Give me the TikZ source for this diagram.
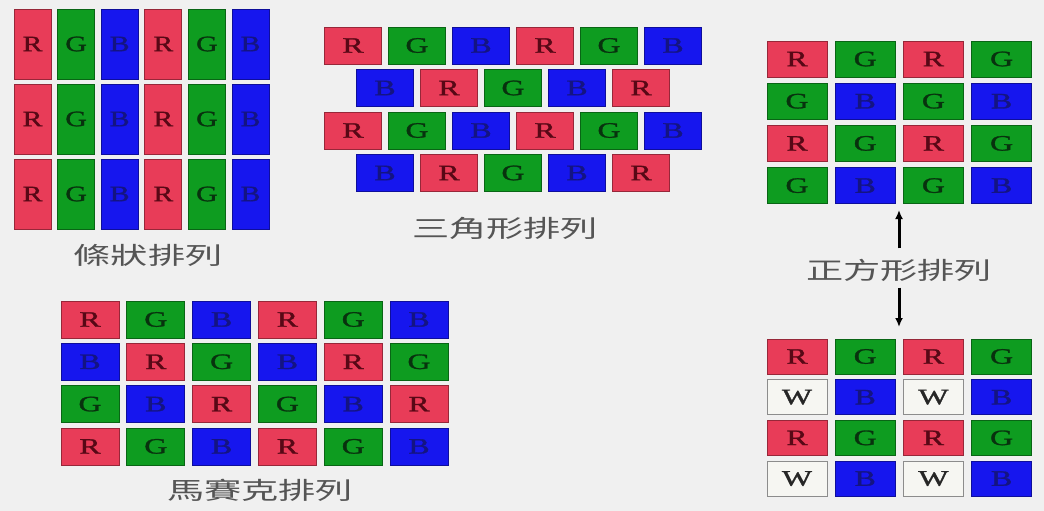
\documentclass[tikz,border=0pt]{standalone}
\usepackage{fontspec}
\setmainfont{Liberation Serif}
\newfontfamily\pixfont[FakeBold=1.2]{Liberation Serif}
\newfontfamily\cjk{Noto Sans CJK TC}
\usetikzlibrary{arrows.meta}
\definecolor{bgpaper}{RGB}{240,240,240}
\definecolor{pixred}{RGB}{232,60,88}
\definecolor{pixgreen}{RGB}{14,156,32}
\definecolor{pixblue}{RGB}{22,22,238}
\definecolor{pixwhite}{RGB}{246,246,242}
\definecolor{txtred}{RGB}{88,8,22}
\definecolor{txtgreen}{RGB}{8,50,14}
\definecolor{txtblue}{RGB}{20,20,130}
\definecolor{capgray}{RGB}{85,85,85}
\newcommand{\wide}[2][1.45]{\scalebox{#1}[1]{#2}}
\tikzset{
    pix/.style={
        draw,
        line width=0.8pt,
        inner sep=0pt,
        font=\pixfont\fontsize{22}{22}\selectfont
    },
    cellR/.style={pix, fill=pixred, draw=pixred!65!black, text=txtred},
    cellG/.style={pix, fill=pixgreen, draw=pixgreen!65!black, text=txtgreen},
    cellB/.style={pix, fill=pixblue, draw=pixblue!65!black, text=txtblue},
    cellW/.style={pix, fill=pixwhite, draw=black!45, text=black!85},
    stripe/.style={minimum width=37pt, minimum height=70pt},
    tri/.style={minimum width=57pt, minimum height=37pt},
    square/.style={minimum width=60pt, minimum height=36pt},
    mosaic/.style={minimum width=58pt, minimum height=37pt},
    caption/.style={text=capgray, font=\cjk\fontsize{24}{24}\selectfont},
    arrow/.style={
        -{Latex[length=9pt,width=8pt]},
        line width=3pt
    }
}

\begin{document}
\begin{tikzpicture}[x=1pt,y=-1pt]

\useasboundingbox[fill=bgpaper] (0,0) rectangle (1044,511);

% stripe
\foreach \c [count=\i] in {R,G,B,R,G,B}
  \foreach \r in {1,2,3}
    \node[cell\c, stripe] (st\r\i) at ({32.5+43.6*(\i-1)}, {44+75*(\r-1)}) {\wide[1.35]{\c}};
\node[caption] (stcap) at (148,255) {\wide[1.55]{條狀排列}};

% delta
\foreach \row [count=\r] in {{R,G,B,R,G,B},{B,R,G,B,R},{R,G,B,R,G,B},{B,R,G,B,R}}
  \foreach \c [count=\i] in \row
    \node[cell\c, tri] (tr\r\i) at ({353+64*(\i-1)+32*(1-mod(\r,2))}, {45.5+42.5*(\r-1)}) {\wide{\c}};
\node[caption] (trcap) at (505,228) {\wide[1.55]{三角形排列}};

% mosaic
\foreach \row [count=\r] in {{R,G,B,R,G,B},{B,R,G,B,R,G},{G,B,R,G,B,R},{R,G,B,R,G,B}}
  \foreach \c [count=\i] in \row
    \node[cell\c, mosaic] (mo\r\i) at ({90+65.8*(\i-1)}, {319.5+42.3*(\r-1)}) {\wide{\c}};
\node[caption] (mocap) at (260,490) {\wide[1.55]{馬賽克排列}};

% square
\foreach \row [count=\r] in {{R,G,R,G},{G,B,G,B},{R,G,R,G},{G,B,G,B}}
  \foreach \c [count=\i] in \row
    \node[cell\c, square] (sa\r\i) at ({797+68.2*(\i-1)}, {59+42.2*(\r-1)}) {\wide{\c}};
\foreach \row [count=\r] in {{R,G,R,G},{W,B,W,B},{R,G,R,G},{W,B,W,B}}
  \foreach \c [count=\i] in \row
    \node[cell\c, square, minimum height=35pt] (sb\r\i) at ({797+68.2*(\i-1)}, {356.5+40.7*(\r-1)}) {\wide{\c}};
\node[caption] (sqcap) at (899,270) {\wide[1.55]{正方形排列}};

\coordinate (uptip) at (899,210);
\coordinate (dntip) at (899,327);
\draw[arrow, shorten <=7pt] (sqcap.north) -- (uptip);
\draw[arrow, shorten <=3pt] (sqcap.south) -- (dntip);

\end{tikzpicture}
\end{document}
